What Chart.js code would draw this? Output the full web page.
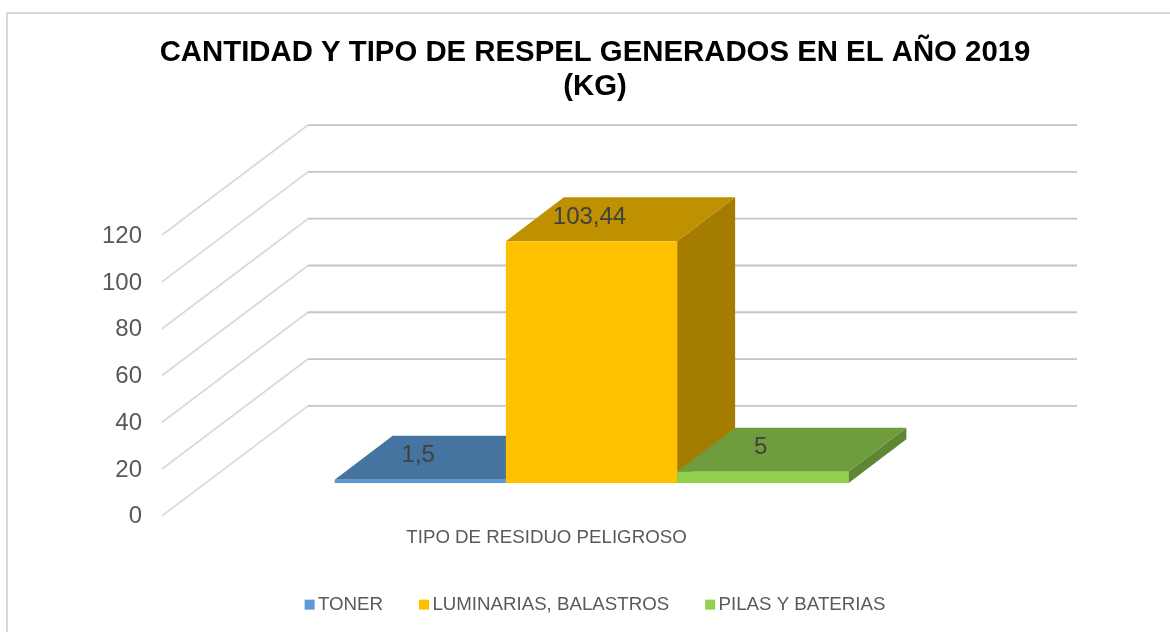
<!DOCTYPE html>
<html>
<head>
<meta charset="utf-8">
<title>RESPEL 2019</title>
<script src="https://cdn.jsdelivr.net/npm/chart.js@4"></script>
<style>
  html, body { margin: 0; padding: 0; background: #fff; overflow: hidden; }
  canvas { display: block; }
</style>
</head>
<body>
<canvas id="respel" width="1170" height="632"></canvas>
<script>
var categories = ['TIPO DE RESIDUO PELIGROSO'];
var seriesNames = ['TONER', 'LUMINARIAS, BALASTROS', 'PILAS Y BATERIAS'];
var seriesValues = [1.5, 103.44, 5];
var valueLabels = ['1,5', '103,44', '5'];
var yTicks = [0, 20, 40, 60, 80, 100, 120];

var frontColors = ['#5b9bd5', '#ffc000', '#92d050'];
var topColors = ['#44749f', '#bf9000', '#6f9c3c'];
var sideColors = ['#3a6489', '#a47c00', '#5f8733'];

// fake 3d: size of the box, how far the bars sit inside it, and their depth
var wallDx = 146;
var wallDy = 110;
var barOffX = 45;
var barOffY = 32.5;
var barDx = 58;
var barDy = 44;
var fontName = '"Liberation Sans", Arial, sans-serif';

function face(ctx, color, pts) {
  ctx.fillStyle = color;
  ctx.beginPath();
  ctx.moveTo(pts[0][0], pts[0][1]);
  for (var i = 1; i < pts.length; i++) {
    ctx.lineTo(pts[i][0], pts[i][1]);
  }
  ctx.closePath();
  ctx.fill();
}

var box3d = {
  id: 'box3d',
  beforeDraw: function (chart) {
    var ctx = chart.ctx;
    // outer frame, only the left and top edges fall inside the picture
    ctx.save();
    ctx.strokeStyle = '#d9d9d9';
    ctx.lineWidth = 2;
    ctx.beginPath();
    ctx.moveTo(7, chart.height);
    ctx.lineTo(7, 13);
    ctx.lineTo(chart.width, 13);
    ctx.stroke();
    ctx.restore();
  },
  beforeDatasetsDraw: function (chart) {
    var ctx = chart.ctx;
    var area = chart.chartArea;
    var y = chart.scales.y;
    ctx.save();
    ctx.lineWidth = 1.8;
    yTicks.forEach(function (t) {
      var py = y.getPixelForValue(t);
      ctx.strokeStyle = '#d9d9d9';
      ctx.beginPath();
      ctx.moveTo(area.left, py);
      ctx.lineTo(area.left + wallDx, py - wallDy);
      ctx.stroke();
      ctx.strokeStyle = '#c4c4c4';
      ctx.beginPath();
      ctx.moveTo(area.left + wallDx, py - wallDy);
      ctx.lineTo(area.right + wallDx, py - wallDy);
      ctx.stroke();
    });
    ctx.restore();

    // series order, the green top covers the foot of the yellow side
    seriesNames.forEach(function (name, i) {
      var bar = chart.getDatasetMeta(i).data[0];
      var l = bar.x - bar.width / 2 + barOffX;
      var r = bar.x + bar.width / 2 + barOffX;
      var t = bar.y - barOffY;
      var b = bar.base - barOffY;
      face(ctx, sideColors[i], [[r, t], [r + barDx, t - barDy], [r + barDx, b - barDy], [r, b]]);
      face(ctx, topColors[i], [[l, t], [l + barDx, t - barDy], [r + barDx, t - barDy], [r, t]]);
    });

    // the library draws the front faces, moved into the box
    ctx.save();
    ctx.translate(barOffX, -barOffY);
  },
  afterDatasetsDraw: function (chart) {
    var ctx = chart.ctx;
    ctx.restore();

    ctx.save();
    ctx.font = '24px ' + fontName;
    ctx.fillStyle = '#404040';
    ctx.textAlign = 'center';
    ctx.textBaseline = 'middle';
    valueLabels.forEach(function (label, i) {
      var bar = chart.getDatasetMeta(i).data[0];
      ctx.fillText(label, bar.x + barOffX - 2, bar.y - barOffY - barDy / 2 - 2);
    });
    ctx.restore();
  },
  afterDraw: function (chart) {
    // legend squares sit closer to the text than the library allows
    var ctx = chart.ctx;
    chart.legend.legendHitBoxes.forEach(function (hit, i) {
      ctx.fillStyle = frontColors[i];
      ctx.fillRect(hit.left, hit.top + hit.height / 2 - 5, 10, 10);
    });
  }
};

var datasets = seriesNames.map(function (name, i) {
  return {
    label: name,
    data: [seriesValues[i]],
    backgroundColor: frontColors[i],
    borderWidth: 0
  };
});

new Chart(document.getElementById('respel'), {
  type: 'bar',
  data: { labels: categories, datasets: datasets },
  plugins: [box3d],
  options: {
    responsive: false,
    animation: false,
    categoryPercentage: 0.668,
    barPercentage: 1,
    layout: { padding: { left: 20, right: 0, top: 0, bottom: 8 } },
    plugins: {
      title: {
        display: true,
        text: ['CANTIDAD Y TIPO DE RESPEL GENERADOS EN EL AÑO 2019', '(KG)'],
        color: '#000000',
        font: { family: fontName, size: 29.35, weight: 'bold', lineHeight: 1.16 },
        padding: { top: 36, bottom: 131 }
      },
      legend: {
        position: 'bottom',
        labels: {
          boxWidth: 4,
          padding: 36,
          color: '#595959',
          font: { family: fontName, size: 18.7 },
          generateLabels: function () {
            return seriesNames.map(function (name, i) {
              return { text: name, fontColor: '#595959', fillStyle: 'transparent', strokeStyle: 'transparent', lineWidth: 0, datasetIndex: i };
            });
          }
        }
      },
      tooltip: { enabled: false }
    },
    scales: {
      x: {
        grid: { display: false },
        border: { display: false },
        ticks: { display: false },
        title: {
          display: true,
          text: categories[0],
          color: '#595959',
          font: { family: fontName, size: 18.7 },
          padding: { top: 3, bottom: 10 }
        }
      },
      y: {
        min: 0,
        max: 120,
        afterBuildTicks: function (scale) {
          scale.ticks = yTicks.map(function (v) { return { value: v }; });
        },
        afterFit: function (scale) { scale.width = 142; },
        grid: { display: false },
        border: { display: false },
        ticks: {
          color: '#595959',
          padding: 12,
          labelOffset: 1,
          font: { family: fontName, size: 24 }
        }
      },
      // empty axis, keeps room on the right for the depth of the box
      yRight: {
        position: 'right',
        afterFit: function (scale) { scale.width = 239; },
        grid: { display: false },
        border: { display: false },
        ticks: { display: false }
      }
    }
  }
});
</script>
</body>
</html>
